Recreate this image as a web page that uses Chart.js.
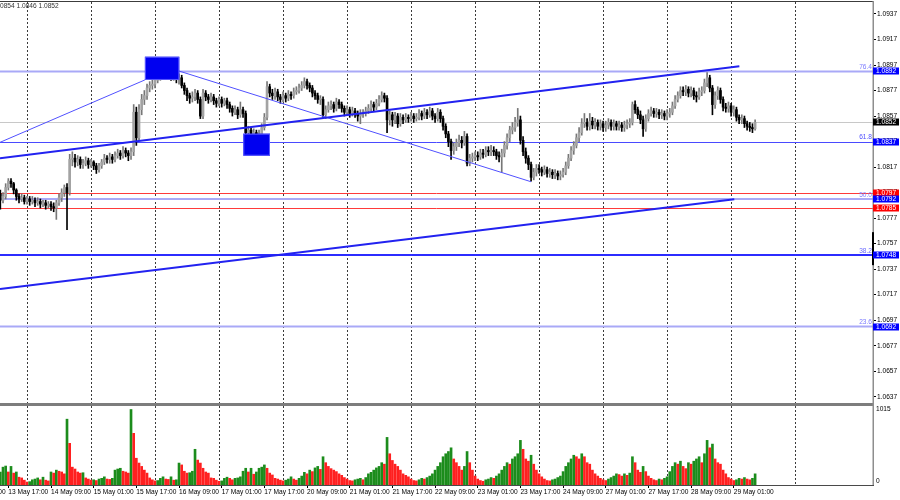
<!DOCTYPE html>
<html>
<head>
<meta charset="utf-8">
<script src="https://cdn.jsdelivr.net/npm/chart.js@4.4.0/dist/chart.umd.min.js"></script>
<style>
html, body { margin: 0; padding: 0; background: #fff; }
canvas { display: block; }
</style>
</head>
<body>
<canvas id="chart" width="900" height="500"></canvas>
<script>
// EURUSD H1, 13 May 14:00 .. 29 May 09:00, one entry per hourly bar
const firstOpen = 1.0796;
const closes = [
  1.0791,1.0794,1.0801,1.0806,1.0804,1.0799,1.0794,1.0792,1.0793,1.0790,1.0792,1.0790,
  1.0791,1.0789,1.0790,1.0788,1.0789,1.0787,1.0788,1.0786,1.0785,1.0789,1.0793,1.0797,
  1.0801,1.0797,1.0823,1.0824,1.0821,1.0823,1.0819,1.0820,1.0822,1.0819,1.0821,1.0818,
  1.0815,1.0818,1.0821,1.0824,1.0823,1.0825,1.0823,1.0826,1.0828,1.0826,1.0830,1.0828,
  1.0826,1.0829,1.0860,1.0840,1.0862,1.0870,1.0873,1.0879,1.0881,1.0882,1.0885,1.0888,
  1.0890,1.0891,1.0889,1.0891,1.0888,1.0889,1.0886,1.0887,1.0881,1.0877,1.0873,1.0871,
  1.0872,1.0875,1.0870,1.0857,1.0875,1.0872,1.0870,1.0872,1.0869,1.0867,1.0870,1.0867,
  1.0869,1.0866,1.0863,1.0860,1.0862,1.0858,1.0862,1.0859,1.0844,1.0846,1.0841,1.0844,
  1.0840,1.0843,1.0848,1.0856,1.0880,1.0875,1.0873,1.0876,1.0872,1.0870,1.0873,1.0871,
  1.0874,1.0873,1.0876,1.0877,1.0879,1.0881,1.0884,1.0881,1.0879,1.0875,1.0873,1.0870,
  1.0870,1.0858,1.0862,1.0865,1.0866,1.0863,1.0868,1.0866,1.0863,1.0860,1.0862,1.0859,
  1.0861,1.0859,1.0857,1.0859,1.0859,1.0861,1.0863,1.0866,1.0864,1.0867,1.0870,1.0873,
  1.0871,1.0854,1.0858,1.0854,1.0857,1.0851,1.0856,1.0854,1.0856,1.0855,1.0857,1.0855,
  1.0856,1.0859,1.0857,1.0860,1.0858,1.0861,1.0857,1.0855,1.0860,1.0855,1.0849,1.0843,
  1.0837,1.0830,1.0833,1.0836,1.0838,1.0836,1.0841,1.0820,1.0824,1.0825,1.0826,1.0825,
  1.0828,1.0827,1.0830,1.0829,1.0830,1.0829,1.0826,1.0825,1.0828,1.0834,1.0840,1.0846,
  1.0848,1.0852,1.0854,1.0838,1.0829,1.0824,1.0819,1.0809,1.0813,1.0816,1.0815,1.0813,
  1.0815,1.0812,1.0813,1.0811,1.0812,1.0810,1.0811,1.0813,1.0818,1.0824,1.0830,1.0834,
  1.0840,1.0844,1.0851,1.0852,1.0849,1.0853,1.0850,1.0852,1.0849,1.0851,1.0848,1.0850,
  1.0852,1.0849,1.0851,1.0849,1.0850,1.0848,1.0850,1.0851,1.0852,1.0866,1.0862,1.0858,
  1.0854,1.0847,1.0855,1.0859,1.0861,1.0859,1.0860,1.0858,1.0859,1.0857,1.0859,1.0860,
  1.0865,1.0870,1.0873,1.0877,1.0876,1.0878,1.0875,1.0877,1.0873,1.0872,1.0876,1.0877,
  1.0883,1.0887,1.0879,1.0866,1.0873,1.0877,1.0870,1.0864,1.0863,1.0865,1.0860,1.0862,
  1.0856,1.0854,1.0855,1.0851,1.0849,1.0848,1.0847,1.0852
];
const highs = [
  1.0799,1.0797,1.0804,1.0808,1.0808,1.0805,1.0800,1.0796,1.0796,1.0795,1.0794,1.0794,
  1.0794,1.0793,1.0793,1.0792,1.0791,1.0791,1.0790,1.0790,1.0789,1.0791,1.0796,1.0800,
  1.0803,1.0804,1.0827,1.0829,1.0827,1.0826,1.0825,1.0823,1.0825,1.0824,1.0823,1.0822,
  1.0820,1.0820,1.0823,1.0827,1.0826,1.0828,1.0827,1.0829,1.0831,1.0830,1.0833,1.0832,
  1.0830,1.0832,1.0866,1.0864,1.0866,1.0874,1.0877,1.0882,1.0884,1.0886,1.0888,1.0891,
  1.0893,1.0894,1.0895,1.0894,1.0893,1.0892,1.0891,1.0890,1.0889,1.0883,1.0879,1.0875,
  1.0876,1.0878,1.0877,1.0872,1.0878,1.0877,1.0874,1.0875,1.0874,1.0871,1.0872,1.0872,
  1.0871,1.0871,1.0868,1.0865,1.0865,1.0864,1.0868,1.0864,1.0861,1.0849,1.0848,1.0847,
  1.0846,1.0846,1.0851,1.0859,1.0884,1.0882,1.0878,1.0879,1.0878,1.0874,1.0876,1.0875,
  1.0877,1.0876,1.0879,1.0880,1.0882,1.0884,1.0887,1.0886,1.0883,1.0881,1.0877,1.0875,
  1.0873,1.0872,1.0865,1.0868,1.0869,1.0868,1.0871,1.0870,1.0868,1.0865,1.0865,1.0864,
  1.0864,1.0863,1.0861,1.0862,1.0862,1.0864,1.0866,1.0869,1.0868,1.0870,1.0873,1.0876,
  1.0875,1.0873,1.0861,1.0860,1.0860,1.0859,1.0859,1.0858,1.0859,1.0858,1.0860,1.0859,
  1.0859,1.0862,1.0861,1.0863,1.0862,1.0864,1.0863,1.0859,1.0863,1.0862,1.0857,1.0851,
  1.0845,1.0839,1.0836,1.0839,1.0842,1.0841,1.0845,1.0843,1.0827,1.0828,1.0829,1.0829,
  1.0831,1.0831,1.0833,1.0833,1.0834,1.0833,1.0831,1.0829,1.0831,1.0837,1.0843,1.0849,
  1.0852,1.0856,1.0863,1.0857,1.0841,1.0832,1.0826,1.0821,1.0816,1.0819,1.0819,1.0817,
  1.0818,1.0817,1.0816,1.0815,1.0815,1.0814,1.0814,1.0816,1.0821,1.0827,1.0833,1.0837,
  1.0843,1.0848,1.0855,1.0859,1.0855,1.0859,1.0856,1.0855,1.0854,1.0854,1.0853,1.0853,
  1.0855,1.0854,1.0854,1.0853,1.0853,1.0852,1.0853,1.0854,1.0855,1.0868,1.0869,1.0864,
  1.0861,1.0857,1.0858,1.0862,1.0864,1.0863,1.0863,1.0862,1.0862,1.0861,1.0862,1.0863,
  1.0868,1.0873,1.0876,1.0880,1.0880,1.0881,1.0880,1.0880,1.0879,1.0876,1.0879,1.0880,
  1.0886,1.0891,1.0889,1.0881,1.0876,1.0880,1.0879,1.0872,1.0867,1.0868,1.0867,1.0865,
  1.0864,1.0858,1.0858,1.0857,1.0853,1.0852,1.0851,1.0854
];
const lows = [
  1.0784,1.0789,1.0792,1.0799,1.0801,1.0796,1.0791,1.0789,1.0790,1.0788,1.0788,1.0787,
  1.0788,1.0786,1.0787,1.0785,1.0786,1.0784,1.0785,1.0783,1.0782,1.0776,1.0787,1.0790,
  1.0794,1.0768,1.0795,1.0818,1.0817,1.0818,1.0816,1.0816,1.0818,1.0816,1.0817,1.0815,
  1.0812,1.0813,1.0816,1.0819,1.0820,1.0820,1.0820,1.0821,1.0824,1.0823,1.0824,1.0825,
  1.0822,1.0823,1.0826,1.0834,1.0838,1.0858,1.0866,1.0870,1.0876,1.0878,1.0879,1.0883,
  1.0885,1.0887,1.0886,1.0886,1.0885,1.0885,1.0883,1.0882,1.0879,1.0874,1.0869,1.0867,
  1.0868,1.0869,1.0867,1.0855,1.0855,1.0869,1.0867,1.0868,1.0866,1.0864,1.0865,1.0864,
  1.0865,1.0863,1.0860,1.0857,1.0858,1.0855,1.0856,1.0856,1.0842,1.0840,1.0838,1.0837,
  1.0838,1.0838,1.0841,1.0846,1.0854,1.0872,1.0870,1.0870,1.0869,1.0867,1.0868,1.0868,
  1.0869,1.0870,1.0871,1.0874,1.0875,1.0877,1.0879,1.0878,1.0876,1.0872,1.0870,1.0867,
  1.0866,1.0856,1.0855,1.0860,1.0862,1.0860,1.0861,1.0863,1.0860,1.0857,1.0858,1.0856,
  1.0857,1.0856,1.0853,1.0851,1.0856,1.0857,1.0859,1.0861,1.0861,1.0862,1.0865,1.0868,
  1.0868,1.0844,1.0850,1.0849,1.0851,1.0848,1.0849,1.0851,1.0852,1.0852,1.0853,1.0852,
  1.0853,1.0854,1.0854,1.0855,1.0855,1.0856,1.0854,1.0852,1.0853,1.0852,1.0846,1.0840,
  1.0833,1.0823,1.0827,1.0830,1.0833,1.0832,1.0834,1.0818,1.0818,1.0821,1.0822,1.0822,
  1.0823,1.0824,1.0825,1.0826,1.0826,1.0826,1.0823,1.0821,1.0813,1.0825,1.0831,1.0837,
  1.0843,1.0845,1.0849,1.0835,1.0826,1.0820,1.0815,1.0806,1.0807,1.0810,1.0812,1.0810,
  1.0811,1.0809,1.0809,1.0808,1.0808,1.0807,1.0807,1.0809,1.0811,1.0816,1.0822,1.0827,
  1.0832,1.0837,1.0842,1.0848,1.0846,1.0846,1.0847,1.0847,1.0846,1.0846,1.0845,1.0845,
  1.0847,1.0846,1.0846,1.0846,1.0846,1.0845,1.0845,1.0847,1.0848,1.0850,1.0859,1.0855,
  1.0851,1.0841,1.0845,1.0853,1.0857,1.0856,1.0856,1.0855,1.0855,1.0854,1.0854,1.0856,
  1.0858,1.0863,1.0868,1.0871,1.0873,1.0873,1.0872,1.0872,1.0870,1.0868,1.0870,1.0873,
  1.0875,1.0880,1.0876,1.0858,1.0863,1.0870,1.0867,1.0861,1.0860,1.0860,1.0857,1.0857,
  1.0853,1.0851,1.0851,1.0848,1.0846,1.0845,1.0844,1.0846
];
const volumes = [
  175,240,255,175,250,160,175,105,95,65,40,45,
  70,80,95,70,105,65,55,175,160,200,185,175,
  150,885,560,240,215,175,160,165,95,80,65,70,
  60,80,90,110,80,75,90,200,215,225,185,175,
  160,1015,695,360,295,250,200,160,95,70,55,60,
  90,110,80,75,110,65,70,295,270,185,160,165,
  185,480,335,295,225,175,160,95,90,65,50,55,
  90,105,90,70,90,95,110,185,225,175,225,145,
  175,225,240,270,225,160,135,90,80,65,55,65,
  80,110,80,65,90,120,170,150,200,180,230,250,
  210,380,300,250,220,200,180,150,130,100,80,60,
  55,70,80,90,70,100,150,170,200,230,250,300,
  280,640,420,330,280,250,200,150,130,110,80,60,
  55,70,90,80,100,120,150,200,250,300,380,420,
  450,500,350,300,250,200,250,450,300,200,120,80,
  60,50,70,80,100,90,120,150,200,250,300,280,
  350,380,420,600,480,350,320,400,280,200,150,110,
  80,60,55,70,80,100,120,180,250,300,350,400,
  380,350,420,380,300,280,200,150,120,90,70,60,
  80,100,120,150,140,120,150,130,160,380,300,200,
  170,250,180,120,90,70,60,80,70,90,110,180,
  250,300,280,320,250,220,300,280,320,350,380,300,
  420,600,500,550,350,300,280,200,150,100,80,60,
  70,90,80,100,80,70,90,150
];

// time axis: bar index of each label and its text, and the bars that open a day
const labelIdx = [-13, 3, 19, 35, 51, 67, 83, 99, 115, 131, 147, 163, 179, 195, 211, 227, 243, 259, 275];
const labelText = ['13 May 01:00', '13 May 17:00', '14 May 09:00', '15 May 01:00', '15 May 17:00',
  '16 May 09:00', '17 May 01:00', '17 May 17:00', '20 May 09:00', '21 May 01:00', '21 May 17:00',
  '22 May 09:00', '23 May 01:00', '23 May 17:00', '24 May 09:00', '27 May 01:00', '27 May 17:00',
  '28 May 09:00', '29 May 01:00'];
const dayStarts = [10, 34, 58, 82, 106, 130, 154, 178, 202, 226, 250, 274, 298];
const priceTicks = [1.0637, 1.0657, 1.0677, 1.0697, 1.0717, 1.0737, 1.0757, 1.0777,
  1.0797, 1.0817, 1.0837, 1.0857, 1.0877, 1.0897, 1.0917, 1.0937];

// horizontal levels (fibo grid, red support lines, current price)
const levelPrices = [1.0892, 1.0852, 1.0837, 1.0797, 1.0792, 1.0785, 1.0748, 1.0692];
const levelKinds = ['fib', 'price', 'fib2', 'red', 'fib', 'red', 'fib3', 'fib'];
const levelNames = ['76.4', '', '61.8', '', '50.0', '', '38.2', '23.6'];

// trend lines: [startBar, startPrice, endBar, endPrice]
const trendThick = [[-0.125, 1.08239, 277.1, 1.08960], [-0.125, 1.07214, 275.2, 1.07918]];
const trendThin = [[-0.125, 1.08364, 54.2, 1.08853], [67.0, 1.08923, 199.0, 1.08055]];
// marker boxes: [fromBar, toBar, lowPrice, highPrice]
const boxes = [[54.2, 67.1, 1.08853, 1.09035], [91.1, 101.1, 1.08259, 1.08432]];

const header = '0854 1.0846 1.0852';
const volTop = 1015;

const levelStyle = {
  fib:   { line: '#a9a9f7', width: 2, box: '#0000ff', text: '#7a7aff' },
  fib2:  { line: '#4a4aff', width: 1, box: '#0000ff', text: '#5050ff' },
  fib3:  { line: '#2c2cff', width: 2, box: '#0000ff', text: '#6a6aff' },
  red:   { line: '#ff3a3a', width: 1, box: '#ff0000', text: '#ff0000' },
  price: { line: '#c8c8c8', width: 1, box: '#000000', text: '#000000' }
};

const opens = closes.map((c, i) => (i === 0 ? firstOpen : closes[i - 1]));
const bull = closes.map((c, i) => c >= opens[i]);

const FONT = '"Liberation Sans", Arial, sans-serif';
Chart.defaults.font.family = FONT;
Chart.defaults.font.size = 6.6;

const overlay = {
  id: 'overlay',
  beforeDatasetsDraw(chart) {
    const { ctx, chartArea: a, scales } = chart;
    ctx.save();
    ctx.strokeStyle = '#3a3a3a';
    ctx.lineWidth = 1;
    ctx.setLineDash([2, 2]);
    dayStarts.forEach(d => {
      const px = Math.round(scales.x.getPixelForValue(d)) + 0.5;
      ctx.beginPath(); ctx.moveTo(px, a.top); ctx.lineTo(px, a.bottom); ctx.stroke();
    });
    ctx.setLineDash([]);
    levelPrices.forEach((p, i) => {
      const st = levelStyle[levelKinds[i]];
      let py = scales.y.getPixelForValue(p);
      if (st.width === 1) py = Math.round(py) + 0.5;
      ctx.strokeStyle = st.line;
      ctx.lineWidth = st.width;
      ctx.beginPath(); ctx.moveTo(a.left, py); ctx.lineTo(a.right, py); ctx.stroke();
    });
    ctx.restore();
  },
  afterDatasetsDraw(chart) {
    const { ctx, scales } = chart;
    ctx.save();
    boxes.forEach(b => {
      const x0 = scales.x.getPixelForValue(b[0]), x1 = scales.x.getPixelForValue(b[1]);
      const y0 = scales.y.getPixelForValue(b[3]), y1 = scales.y.getPixelForValue(b[2]);
      ctx.fillStyle = '#0000f0';
      ctx.fillRect(x0, y0, x1 - x0, y1 - y0);
      ctx.strokeStyle = '#5a5aff';
      ctx.lineWidth = 1;
      ctx.strokeRect(x0 + 0.5, y0 + 0.5, x1 - x0 - 1, y1 - y0 - 1);
    });
    ctx.restore();
  },
  afterDraw(chart) {
    const { ctx, chartArea: a, scales } = chart;
    ctx.save();
    // frame and pane separator
    ctx.fillStyle = '#3c3c3c';
    ctx.fillRect(0, a.top - 1, a.right + 1, 1);
    ctx.fillStyle = '#7d7d7d';
    ctx.fillRect(0, scales.y.bottom - 1, a.right + 1, 3);
    ctx.fillStyle = '#8e8e8e';
    ctx.fillRect(a.right - 0.5, a.top - 1, 1.5, a.bottom - a.top + 1);
    ctx.fillStyle = '#4a4a4a';
    ctx.fillRect(0, a.bottom, a.right + 1, 1);
    ctx.fillStyle = '#000';
    ctx.fillRect(a.right - 1, scales.y.getPixelForValue(1.0766), 2, 33);

    ctx.font = '6.6px ' + FONT;
    ctx.textBaseline = 'middle';
    // level names over the lines
    ctx.textAlign = 'right';
    levelPrices.forEach((p, i) => {
      if (!levelNames[i]) return;
      const py = scales.y.getPixelForValue(p);
      ctx.fillStyle = levelStyle[levelKinds[i]].text;
      ctx.fillText(levelNames[i], a.right - 1, py - 4);
    });
    // price boxes on the axis
    ctx.textAlign = 'left';
    levelPrices.forEach((p, i) => {
      const py = Math.round(scales.y.getPixelForValue(p));
      ctx.fillStyle = levelStyle[levelKinds[i]].box;
      ctx.fillRect(a.right, py - 3.5, 26, 7);
      ctx.fillStyle = '#fff';
      ctx.fillText(p.toFixed(4), a.right + 3, py + 0.5);
    });
    // volume scale labels
    ctx.fillStyle = '#000';
    ctx.fillText(String(volTop), a.right + 3, scales.yv.getPixelForValue(volTop));
    ctx.fillText('0', a.right + 3, scales.yv.getPixelForValue(0) - 4);
    // OHLC header
    ctx.fillStyle = '#333';
    ctx.fillText(header, 0, 6);
    ctx.restore();
  }
};

const idx = closes.map((c, i) => i);

const datasets = [
  {
    type: 'bar', label: 'body', grouped: false, order: 1,
    data: idx.map(i => ({ x: i, y: [opens[i], closes[i]] })),
    backgroundColor: idx.map(i => (bull[i] ? '#a3a3a3' : '#000000')),
    barThickness: 2, minBarLength: 1, borderWidth: 0
  },
  {
    type: 'bar', label: 'wick', grouped: false, order: 2,
    data: idx.map(i => ({ x: i, y: [lows[i], highs[i]] })),
    backgroundColor: idx.map(i => (bull[i] ? '#777777' : '#000000')),
    barThickness: 1, borderWidth: 0
  },
  {
    type: 'bar', label: 'volume', grouped: false, order: 1, yAxisID: 'yv',
    data: idx.map(i => ({ x: i, y: volumes[i] })),
    backgroundColor: idx.map(i => (i > 0 && volumes[i] < volumes[i - 1] ? '#ff2020' : '#1c8c1c')),
    barThickness: 2, borderWidth: 0
  }
];
trendThick.forEach(t => datasets.push({
  type: 'line', order: 0, data: [{ x: t[0], y: t[1] }, { x: t[2], y: t[3] }],
  borderColor: '#2222f0', borderWidth: 2, pointRadius: 0, fill: false
}));
trendThin.forEach(t => datasets.push({
  type: 'line', order: 0, data: [{ x: t[0], y: t[1] }, { x: t[2], y: t[3] }],
  borderColor: '#5050ff', borderWidth: 1, pointRadius: 0, fill: false
}));

new Chart(document.getElementById('chart'), {
  type: 'bar',
  data: { datasets: datasets },
  options: {
    responsive: false,
    animation: false,
    devicePixelRatio: 1,
    layout: { padding: { top: 2, left: 0, right: 0, bottom: 0 } },
    plugins: { legend: { display: false }, tooltip: { enabled: false } },
    scales: {
      x: {
        type: 'linear', min: -0.125, max: 327.2, offset: false, bounds: 'data',
        afterBuildTicks: s => { s.ticks = labelIdx.map(v => ({ value: v })); },
        afterFit: s => { s.height = 15; s.paddingLeft = 0; s.paddingRight = 0; },
        ticks: {
          autoSkip: false, maxRotation: 0, minRotation: 0, align: 'start', padding: 0,
          color: '#000', callback: v => labelText[labelIdx.indexOf(v)]
        },
        grid: { drawOnChartArea: false, drawTicks: true, tickLength: 3, color: '#000', offset: false },
        border: { display: false }
      },
      y: {
        position: 'right', stack: 'panes', stackWeight: 402,
        min: 1.06313, max: 1.09464, beginAtZero: false,
        afterBuildTicks: s => { s.ticks = priceTicks.map(v => ({ value: v })); },
        afterFit: s => { s.width = 27; s.paddingTop = 0; s.paddingBottom = 0; },
        ticks: { color: '#000', padding: 1, callback: v => v.toFixed(4) },
        grid: { drawOnChartArea: false, drawTicks: true, tickLength: 3, color: '#000' },
        border: { display: false }
      },
      yv: {
        position: 'right', stack: 'panes', stackWeight: 81,
        min: 0, max: 1089, beginAtZero: true,
        afterFit: s => { s.width = 27; s.paddingTop = 0; s.paddingBottom = 0; },
        ticks: { display: false },
        grid: { display: false },
        border: { display: false }
      }
    }
  },
  plugins: [overlay]
});
</script>
</body>
</html>
